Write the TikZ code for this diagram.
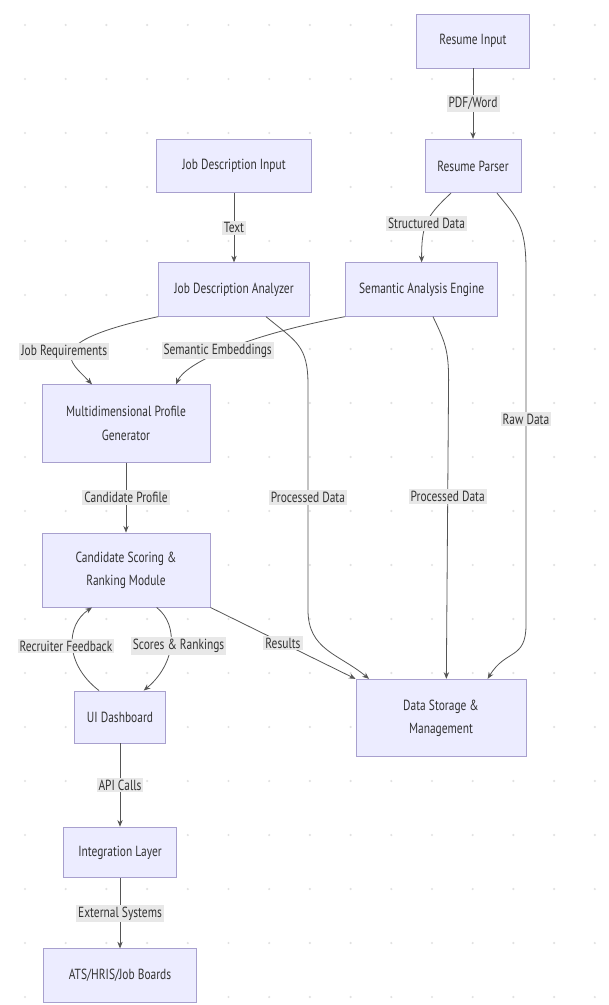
\documentclass[tikz,border=0pt]{standalone}
\usepackage{fontspec}
\setmainfont{PT Sans}[FakeStretch=0.78]
\usepackage{tikz}
\usetikzlibrary{arrows.meta,calc}
\definecolor{boxfill}{RGB}{236,236,255}
\definecolor{boxline}{RGB}{168,160,206}
\definecolor{wire}{RGB}{85,85,85}
\definecolor{inktext}{RGB}{51,51,51}
\definecolor{tagfill}{RGB}{232,232,232}
\definecolor{gridspeck}{RGB}{225,225,225}
\tikzset{
  unit/.style={draw=boxline,line width=0.7pt,fill=boxfill,inner sep=0pt,align=center,text=inktext,font=\fontsize{11}{17.5}\selectfont},
  elabel/.style={fill=tagfill,inner sep=1.5pt,text=inktext,font=\fontsize{11}{13}\selectfont},
  flow/.style={-{Stealth[length=5pt,width=4pt]},draw=wire,line width=0.6pt}
}

\begin{document}
\begin{tikzpicture}[x=0.75pt,y=-0.75pt]
\useasboundingbox[fill=white] (0,0) rectangle (609,1005);
\foreach \i in {0,...,14}
  \foreach \j in {0,...,18}
    \fill[gridspeck] (25+40.7*\i,25+54*\j) circle (0.9pt);

\node[unit,minimum width=84.75pt,minimum height=40.5pt] (resin) at (473,41) {Resume Input};
\node[unit,minimum width=116pt,minimum height=40pt] (jdin) at (234,166) {Job Description Input};
\node[unit,minimum width=72pt,minimum height=40pt] (parser) at (473,166) {Resume Parser};
\node[unit,minimum width=113pt,minimum height=40pt] (jdan) at (234,289.5) {Job Description Analyzer};
\node[unit,minimum width=114pt,minimum height=40pt] (sae) at (421.6,289.5) {Semantic Analysis Engine};
\node[unit,minimum width=126pt,minimum height=58pt] (mpg) at (126,423.5) {Multidimensional Profile\\Generator};
\node[unit,minimum width=126pt,minimum height=55.5pt] (csrm) at (126,570) {Candidate Scoring \&\\Ranking Module};
\node[unit,minimum width=68pt,minimum height=39pt] (ui) at (120,717) {UI Dashboard};
\node[unit,minimum width=127.5pt,minimum height=58pt] (store) at (441,718) {Data Storage \&\\Management};
\node[unit,minimum width=84.5pt,minimum height=38pt] (integ) at (120,852.5) {Integration Layer};
\node[unit,minimum width=114.5pt,minimum height=40pt] (ats) at (120,975.5) {ATS/HRIS/Job Boards};

\draw[flow] (resin) -- node[elabel] (lpdf) {PDF/Word} (parser);
\draw[flow] (jdin) -- node[elabel] (ltext) {Text} (jdan);
\draw[flow] ([xshift=-16.5pt]parser.south) .. controls +(-26,24) and +(0,-36) .. node[elabel] (lstruct) {Structured Data} (sae.north);
\draw[flow] ([xshift=18pt]parser.south) .. controls +(20,25) and +(0,-45) .. (526,270)
  -- node[elabel,pos=0.42] (lraw) {Raw Data} (526,625)
  .. controls +(0,35) and +(18,-30) .. ([xshift=35pt]store.north);
\draw[flow] (jdan.south west) .. controls +(-119,26) and +(-22,-23) .. node[elabel,xshift=-6pt] (lreq) {Job Requirements} ([xshift=-25.5pt]mpg.north);
\draw[flow] (sae.south west) .. controls +(-105.6,20) and +(9,-20) .. node[elabel,xshift=-5pt] (lemb) {Semantic Embeddings} ([xshift=37.5pt]mpg.north);
\draw[flow] ([xshift=24pt]jdan.south) .. controls +(30,25) and +(0,-40) .. (308,385)
  -- node[elabel] (lprocl) {Processed Data} (308,610)
  .. controls +(0,40) and +(-30,-25) .. ([xshift=-54pt]store.north);
\draw[flow] ([xshift=8.5pt]sae.south) .. controls +(12,25) and +(0,-30) .. (448.6,380)
  -- node[elabel,pos=0.39] (lprocr) {Processed Data} ([xshift=4pt]store.north);
\draw[flow] (mpg) -- node[elabel] (lcand) {Candidate Profile} (csrm);
\draw[flow] ([xshift=23pt]csrm.south) .. controls +(23,18) and +(31.3,-26) .. node[elabel,xshift=6pt] (lscore) {Scores \& Rankings} ([xshift=17.8pt]ui.north);
\draw[flow] ([xshift=-15.75pt]ui.north) .. controls +(-34,-26) and +(-27,18) .. node[elabel,xshift=-5pt] (lfeed) {Recruiter Feedback} ([xshift=-25.5pt]csrm.south);
\draw[flow] (csrm.south east) -- node[elabel] (lres) {Results} (store.north west);
\draw[flow] (ui) -- node[elabel] (lapi) {API Calls} (integ);
\draw[flow] (integ) -- node[elabel] (lext) {External Systems} (ats);
\end{tikzpicture}
\end{document}
